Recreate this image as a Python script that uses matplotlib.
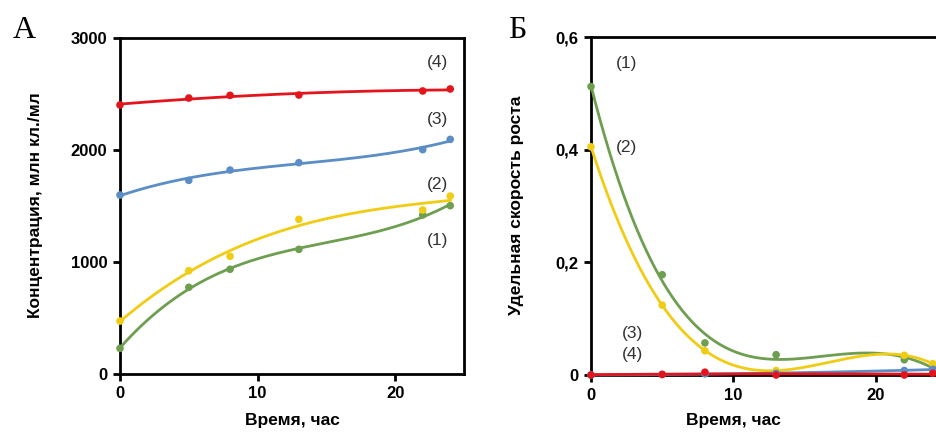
import numpy as np
import matplotlib
matplotlib.use("Agg")
import matplotlib.pyplot as plt

plt.rcParams['font.family'] = ['Liberation Sans', 'DejaVu Sans']

# ---- data ----
time = [0, 5, 8, 13, 22, 24]

# Panel A: concentration, mln cells/ml
conc_1 = [229, 774, 935, 1113, 1420, 1503]
conc_2 = [473, 922, 1051, 1381, 1464, 1589]
conc_3 = [1598, 1729, 1821, 1887, 2003, 2095]
conc_4 = [2402, 2464, 2488, 2491, 2527, 2545]

# Panel B: specific growth rate
rate_1 = [0.512, 0.178, 0.057, 0.036, 0.027, 0.015]
rate_2 = [0.405, 0.124, 0.043, 0.008, 0.035, 0.020]
rate_3 = [0.000, 0.001, 0.002, 0.003, 0.008, 0.010]
rate_4 = [0.000, 0.001, 0.005, 0.000, 0.000, 0.003]

labels = ['(1)', '(2)', '(3)', '(4)']
colors = ['#6E9E50', '#F0CC14', '#5B8DC6', '#E3141C']

W, H = 936, 432
fig = plt.figure(figsize=(W / 100, H / 100), dpi=100)

def px_axes(l, t, r, b):
    return fig.add_axes([l / W, 1 - b / H, (r - l) / W, (b - t) / H])

axA = px_axes(120, 38, 464, 374)
axB = px_axes(591, 37, 947, 375)

def style(ax):
    for s in ax.spines.values():
        s.set_linewidth(2.0)
        s.set_color('black')
    ax.tick_params(direction='out', length=5, width=2, labelsize=12, pad=4)
    for lab in ax.get_xticklabels() + ax.get_yticklabels():
        lab.set_fontweight('bold')

def fitline(ax, x, y, deg, color, z=3):
    xs = np.linspace(0, 24, 300)
    p = np.polyfit(x, y, deg)
    ax.plot(xs, np.polyval(p, xs), color=color, lw=2.0, zorder=z, clip_on=False)
    ax.scatter(x, y, s=30, color=color, zorder=z + 0.5, clip_on=False, edgecolors='none')

# Panel A
for y, c, d in zip([conc_1, conc_2, conc_3, conc_4], colors, [3, 3, 3, 2]):
    fitline(axA, time, y, d, c)
axA.set_xlim(0, 25)
axA.set_ylim(0, 3000)
axA.set_xticks([0, 10, 20])
axA.set_yticks([0, 1000, 2000, 3000])
style(axA)
for lab, yy in zip(labels, [1188, 1696, 2268, 2777]):
    axA.text(23.1, yy, lab, ha='center', va='center', fontsize=12.5, color='#333333')

# Panel B
for y, c in zip([rate_1, rate_2], colors[:2]):
    fitline(axB, time, y, 4, c)
for y, c in zip([rate_3, rate_4], colors[2:]):
    fitline(axB, time, y, 2, c, z=4)
axB.set_xlim(0, 25)
axB.set_ylim(0, 0.6)
axB.set_xticks([0, 10, 20])
axB.set_yticks([0, 0.2, 0.4, 0.6])
axB.set_yticklabels(['0', '0,2', '0,4', '0,6'])
axB.spines['right'].set_visible(False)
style(axB)
for lab, (xx, yy) in zip(labels, [(2.5, 0.553), (2.5, 0.403), (2.9, 0.074), (2.9, 0.037)]):
    axB.text(xx, yy, lab, ha='center', va='center', fontsize=12.5, color='#333333')

# axis titles
fig.text(36 / W, 1 - 205 / H, 'Концентрация, млн кл./мл', rotation=90, ha='center', va='center',
         fontsize=12.5, fontweight='bold')
fig.text(517 / W, 1 - 205 / H, 'Удельная скорость роста', rotation=90, ha='center', va='center',
         fontsize=12.5, fontweight='bold')
fig.text(292 / W, 1 - 421 / H, 'Время, час', ha='center', va='center', fontsize=12.5, fontweight='bold')
fig.text(733 / W, 1 - 421 / H, 'Время, час', ha='center', va='center', fontsize=12.5, fontweight='bold')

# panel letters
fig.text(24 / W, 1 - 31 / H, 'А', ha='center', va='center', fontsize=23, family='Liberation Serif')
fig.text(517 / W, 1 - 31 / H, 'Б', ha='center', va='center', fontsize=23, family='Liberation Serif')

fig.savefig('out.png', dpi=100)
